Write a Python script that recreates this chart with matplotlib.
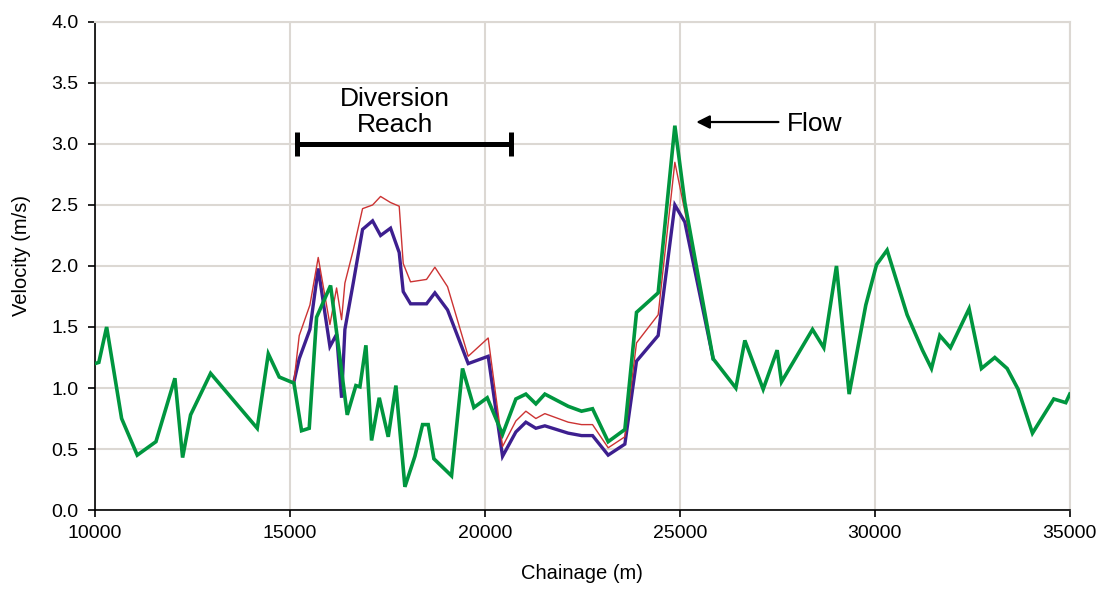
import matplotlib
matplotlib.use("Agg")
import matplotlib.pyplot as plt

plt.rcParams['font.family'] = ['Liberation Sans', 'DejaVu Sans']

# Green series (full reach)
chainage_green = [10000, 10100, 10300, 10684, 11085, 11564, 12051, 12248, 12453, 12966,
                  14162, 14446, 14726, 15103, 15299, 15495, 15684, 16043, 16470, 16692,
                  16795, 16949, 17094, 17291, 17521, 17718, 17949, 18205, 18402, 18547,
                  18692, 19145, 19427, 19718, 20060, 20453, 20795, 21051, 21308, 21538,
                  22137, 22479, 22761, 23162, 23590, 23889, 24444, 24872, 25128, 25854,
                  26436, 26667, 27137, 27495, 27607, 28402, 28692, 29017, 29342, 29769,
                  30043, 30315, 30829, 31222, 31453, 31667, 31940, 32418, 32735, 33077,
                  33393, 33675, 34043, 34590, 34897, 35000]
vel_green = [1.20, 1.21, 1.50, 0.75, 0.45, 0.56, 1.08, 0.43, 0.78, 1.12,
             0.67, 1.28, 1.09, 1.04, 0.65, 0.67, 1.58, 1.84, 0.78, 1.02,
             1.01, 1.35, 0.57, 0.92, 0.60, 1.02, 0.19, 0.44, 0.70, 0.70,
             0.42, 0.28, 1.16, 0.84, 0.92, 0.62, 0.91, 0.95, 0.87, 0.95,
             0.85, 0.81, 0.83, 0.56, 0.66, 1.62, 1.78, 3.15, 2.52, 1.24,
             1.00, 1.39, 0.99, 1.31, 1.05, 1.48, 1.33, 2.00, 0.95, 1.68,
             2.01, 2.13, 1.60, 1.31, 1.16, 1.43, 1.33, 1.65, 1.16, 1.25,
             1.16, 0.99, 0.63, 0.91, 0.88, 0.95]

# Purple and red series (differ from green between ~15100 and ~25850)
chainage_div = [15103, 15239, 15513, 15726, 16026, 16197, 16325, 16410, 16624, 16863,
                17120, 17325, 17581, 17803, 17906, 18094, 18504, 18718, 19043, 19572,
                20085, 20453, 20795, 21051, 21308, 21538, 22137, 22479, 22761, 23162,
                23590, 23889, 24444, 24872, 25128, 25854]
vel_purple = [1.05, 1.24, 1.48, 1.98, 1.34, 1.44, 0.92, 1.48, 1.86, 2.30,
              2.37, 2.25, 2.31, 2.11, 1.79, 1.69, 1.69, 1.78, 1.64, 1.20,
              1.26, 0.44, 0.64, 0.72, 0.67, 0.69, 0.63, 0.61, 0.61, 0.45,
              0.54, 1.22, 1.43, 2.50, 2.36, 1.24]
vel_red = [1.05, 1.43, 1.68, 2.07, 1.52, 1.82, 1.56, 1.86, 2.13, 2.47,
           2.50, 2.57, 2.52, 2.49, 2.02, 1.87, 1.89, 1.99, 1.83, 1.26,
           1.41, 0.52, 0.73, 0.81, 0.75, 0.79, 0.72, 0.70, 0.70, 0.51,
           0.60, 1.37, 1.60, 2.85, 2.45, 1.24]

x_ticks = [10000, 15000, 20000, 25000, 30000, 35000]
y_ticks = [0.0, 0.5, 1.0, 1.5, 2.0, 2.5, 3.0, 3.5, 4.0]

fig = plt.figure(figsize=(11.04, 5.97), dpi=100)
ax = fig.add_axes([0.086, 0.1457, 0.883, 0.8175])

grid_c = '#dcd8d3'
ax.set_xlim(10000, 35000)
ax.set_ylim(0, 4)
ax.set_xticks(x_ticks)
ax.set_yticks(y_ticks)
ax.set_yticklabels([f"{v:.1f}" for v in y_ticks])
ax.grid(True, color=grid_c, linewidth=1.5, zorder=0)
ax.set_axisbelow(True)

for s in ['top', 'right']:
    ax.spines[s].set_color(grid_c)
    ax.spines[s].set_linewidth(1.5)
for s in ['left', 'bottom']:
    ax.spines[s].set_color('black')
    ax.spines[s].set_linewidth(1.2)

ax.tick_params(axis='both', direction='out', length=5, width=1.2, labelsize=14, color='black')
ax.tick_params(axis='x', pad=6)
ax.tick_params(axis='y', pad=7)

ax.plot(chainage_div, vel_purple, color='#3d1f8f', linewidth=2.4, zorder=3, solid_joinstyle='miter')
ax.plot(chainage_div, vel_red, color='#cc3333', linewidth=1.0, zorder=4)
ax.plot(chainage_green, vel_green, color='#00963f', linewidth=2.6, zorder=5, solid_joinstyle='miter')

ax.set_xlabel('Chainage (m)', fontsize=14.5)
ax.set_ylabel('Velocity (m/s)', fontsize=14.5)
ax.xaxis.set_label_coords(0.5, -0.111)
ax.yaxis.set_label_coords(-0.066, 0.522)

# Diversion reach bar
ax.plot([15180, 20667], [3.0, 3.0], color='black', linewidth=3.6, zorder=6, solid_capstyle='butt')
ax.plot([15180, 15180], [2.905, 3.095], color='black', linewidth=3.6, zorder=6, solid_capstyle='butt')
ax.plot([20667, 20667], [2.905, 3.095], color='black', linewidth=3.6, zorder=6, solid_capstyle='butt')
ax.text(17690, 3.26, 'Diversion\nReach', ha='center', va='center', fontsize=19, linespacing=1.1, zorder=6)

# Flow arrow
ax.annotate('', xy=(25350, 3.18), xytext=(27600, 3.18),
            arrowprops=dict(arrowstyle='-|>', color='black', lw=1.6, mutation_scale=20), zorder=6)
ax.text(27750, 3.16, 'Flow', ha='left', va='center', fontsize=19, zorder=6)

fig.savefig('out.png', dpi=100)
